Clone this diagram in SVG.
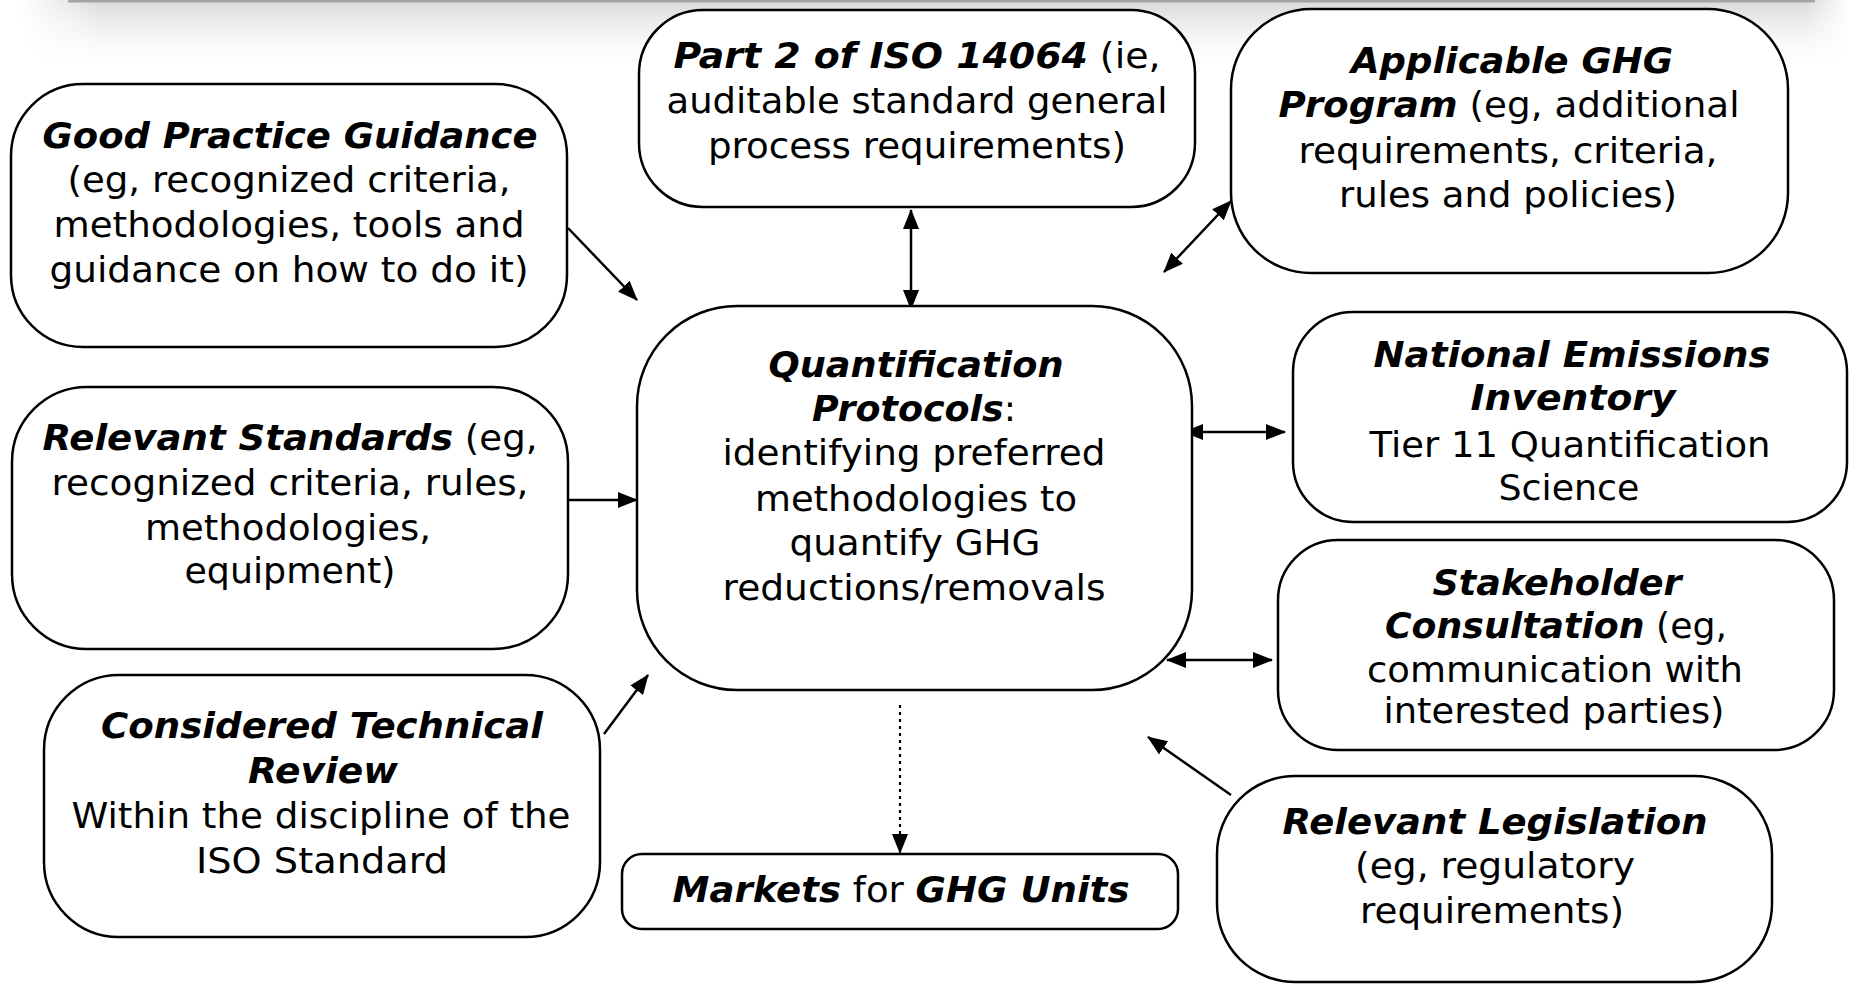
<svg xmlns="http://www.w3.org/2000/svg" width="1856" height="984" viewBox="0 0 1856 984">
<style>
.box{fill:#fff;stroke:#000;stroke-width:2.5}
.t{font-family:"DejaVu Sans","Verdana",sans-serif;font-size:36px;fill:#000;text-anchor:middle}
.b{font-weight:bold;font-style:italic}
.ln{stroke:#000;stroke-width:2.5;fill:none}
.dot{stroke:#000;stroke-width:2.2;fill:none;stroke-dasharray:3 4}
</style>
<defs>
<marker id="ah" markerUnits="userSpaceOnUse" markerWidth="20" markerHeight="16" viewBox="0 0 20 16" refX="19" refY="8" orient="auto-start-reverse">
<path d="M0,0 L20,8 L0,16 z" fill="#000"/>
</marker>
<linearGradient id="gv" x1="0" y1="0" x2="0" y2="1">
<stop offset="0" stop-color="#000" stop-opacity="0.15"/>
<stop offset="0.35" stop-color="#000" stop-opacity="0.07"/>
<stop offset="0.7" stop-color="#000" stop-opacity="0.02"/>
<stop offset="1" stop-color="#000" stop-opacity="0"/>
</linearGradient>
<linearGradient id="gh" gradientUnits="userSpaceOnUse" x1="20" y1="0" x2="1850" y2="0">
<stop offset="0" stop-color="#fff" stop-opacity="0"/>
<stop offset="0.045" stop-color="#fff" stop-opacity="1"/>
<stop offset="0.975" stop-color="#fff" stop-opacity="1"/>
<stop offset="1" stop-color="#fff" stop-opacity="0"/>
</linearGradient>
<mask id="mh" maskUnits="userSpaceOnUse" x="0" y="0" width="1856" height="100">
<rect x="0" y="0" width="1856" height="100" fill="url(#gh)"/>
</mask>
</defs>
<rect width="1856" height="984" fill="#fff"/>
<g id="topbar">
<rect x="20" y="0" width="1830" height="65" fill="url(#gv)" mask="url(#mh)"/>
<rect x="68" y="0" width="1747" height="2.5" fill="#a4a4a4"/>
</g>
<g id="connectors">
<line class="ln" x1="568" y1="228" x2="637" y2="300" marker-end="url(#ah)"/>
<line class="ln" x1="911" y1="210" x2="911" y2="309" marker-start="url(#ah)" marker-end="url(#ah)"/>
<line class="ln" x1="1164" y1="272" x2="1231" y2="201" marker-start="url(#ah)" marker-end="url(#ah)"/>
<line class="ln" x1="1184" y1="432" x2="1285" y2="432" marker-start="url(#ah)" marker-end="url(#ah)"/>
<line class="ln" x1="568" y1="500" x2="637" y2="500" marker-end="url(#ah)"/>
<line class="ln" x1="1167" y1="660" x2="1272" y2="660" marker-start="url(#ah)" marker-end="url(#ah)"/>
<line class="ln" x1="604" y1="734" x2="648" y2="675" marker-end="url(#ah)"/>
<line class="ln" x1="1231" y1="795" x2="1148" y2="737" marker-end="url(#ah)"/>
<line class="dot" x1="900" y1="705" x2="900" y2="853" marker-end="url(#ah)"/>
</g>
<g id="good-practice">
<rect class="box" x="11" y="84" width="556" height="263" rx="72" ry="72"/>
<text class="t" x="290" y="148" textLength="495" lengthAdjust="spacingAndGlyphs"><tspan class="b">Good Practice Guidance</tspan></text>
<text class="t" x="289" y="192" textLength="443" lengthAdjust="spacingAndGlyphs">(eg, recognized criteria,</text>
<text class="t" x="289" y="237" textLength="471" lengthAdjust="spacingAndGlyphs">methodologies, tools and</text>
<text class="t" x="289" y="282" textLength="479" lengthAdjust="spacingAndGlyphs">guidance on how to do it)</text>
</g>
<g id="part2">
<rect class="box" x="639" y="10" width="556" height="197" rx="64" ry="64"/>
<text class="t" x="917" y="68" textLength="487" lengthAdjust="spacingAndGlyphs"><tspan class="b">Part 2 of ISO 14064</tspan> (ie,</text>
<text class="t" x="917" y="113" textLength="501" lengthAdjust="spacingAndGlyphs">auditable standard general</text>
<text class="t" x="917" y="158" textLength="418" lengthAdjust="spacingAndGlyphs">process requirements)</text>
</g>
<g id="applicable">
<rect class="box" x="1231" y="9" width="557" height="264" rx="80" ry="80"/>
<text class="t" x="1512" y="73" textLength="322" lengthAdjust="spacingAndGlyphs"><tspan class="b">Applicable GHG</tspan></text>
<text class="t" x="1509" y="117" textLength="461" lengthAdjust="spacingAndGlyphs"><tspan class="b">Program</tspan> (eg, additional</text>
<text class="t" x="1508" y="163" textLength="419" lengthAdjust="spacingAndGlyphs">requirements, criteria,</text>
<text class="t" x="1508" y="207" textLength="338" lengthAdjust="spacingAndGlyphs">rules and policies)</text>
</g>
<g id="quantification">
<rect class="box" x="637" y="306" width="555" height="384" rx="100" ry="100"/>
<text class="t" x="916" y="377" textLength="295" lengthAdjust="spacingAndGlyphs"><tspan class="b">Quantification</tspan></text>
<text class="t" x="914" y="421" textLength="204" lengthAdjust="spacingAndGlyphs"><tspan class="b">Protocols</tspan>:</text>
<text class="t" x="914" y="465" textLength="383" lengthAdjust="spacingAndGlyphs">identifying preferred</text>
<text class="t" x="916" y="511" textLength="322" lengthAdjust="spacingAndGlyphs">methodologies to</text>
<text class="t" x="915" y="555" textLength="251" lengthAdjust="spacingAndGlyphs">quantify GHG</text>
<text class="t" x="914" y="600" textLength="383" lengthAdjust="spacingAndGlyphs">reductions/removals</text>
</g>
<g id="relevant-standards">
<rect class="box" x="12" y="387" width="556" height="262" rx="75" ry="75"/>
<text class="t" x="290" y="450" textLength="495" lengthAdjust="spacingAndGlyphs"><tspan class="b">Relevant Standards</tspan> (eg,</text>
<text class="t" x="290" y="495" textLength="477" lengthAdjust="spacingAndGlyphs">recognized criteria, rules,</text>
<text class="t" x="288" y="540" textLength="286" lengthAdjust="spacingAndGlyphs">methodologies,</text>
<text class="t" x="290" y="583" textLength="211" lengthAdjust="spacingAndGlyphs">equipment)</text>
</g>
<g id="considered">
<rect class="box" x="44" y="675" width="556" height="262" rx="75" ry="75"/>
<text class="t" x="322" y="738" textLength="442" lengthAdjust="spacingAndGlyphs"><tspan class="b">Considered Technical</tspan></text>
<text class="t" x="323" y="783" textLength="150" lengthAdjust="spacingAndGlyphs"><tspan class="b">Review</tspan></text>
<text class="t" x="321" y="828" textLength="499" lengthAdjust="spacingAndGlyphs">Within the discipline of the</text>
<text class="t" x="322" y="873" textLength="252" lengthAdjust="spacingAndGlyphs">ISO Standard</text>
</g>
<g id="markets">
<rect class="box" x="622" y="854" width="556" height="75" rx="20" ry="20"/>
<text class="t" x="901" y="902" textLength="457" lengthAdjust="spacingAndGlyphs"><tspan class="b">Markets</tspan> for <tspan class="b">GHG Units</tspan></text>
</g>
<g id="national">
<rect class="box" x="1293" y="312" width="554" height="210" rx="60" ry="60"/>
<text class="t" x="1572" y="367" textLength="397" lengthAdjust="spacingAndGlyphs"><tspan class="b">National Emissions</tspan></text>
<text class="t" x="1573" y="410" textLength="205" lengthAdjust="spacingAndGlyphs"><tspan class="b">Inventory</tspan></text>
<text class="t" x="1570" y="457" textLength="401" lengthAdjust="spacingAndGlyphs">Tier 11 Quantification</text>
<text class="t" x="1569" y="500" textLength="141" lengthAdjust="spacingAndGlyphs">Science</text>
</g>
<g id="stakeholder">
<rect class="box" x="1278" y="540" width="556" height="210" rx="60" ry="60"/>
<text class="t" x="1557" y="595" textLength="249" lengthAdjust="spacingAndGlyphs"><tspan class="b">Stakeholder</tspan></text>
<text class="t" x="1556" y="638" textLength="342" lengthAdjust="spacingAndGlyphs"><tspan class="b">Consultation</tspan> (eg,</text>
<text class="t" x="1555" y="682" textLength="376" lengthAdjust="spacingAndGlyphs">communication with</text>
<text class="t" x="1554" y="723" textLength="341" lengthAdjust="spacingAndGlyphs">interested parties)</text>
</g>
<g id="legislation">
<rect class="box" x="1217" y="776" width="555" height="206" rx="78" ry="78"/>
<text class="t" x="1495" y="834" textLength="425" lengthAdjust="spacingAndGlyphs"><tspan class="b">Relevant Legislation</tspan></text>
<text class="t" x="1495" y="878" textLength="280" lengthAdjust="spacingAndGlyphs">(eg, regulatory</text>
<text class="t" x="1492" y="923" textLength="264" lengthAdjust="spacingAndGlyphs">requirements)</text>
</g>
</svg>
